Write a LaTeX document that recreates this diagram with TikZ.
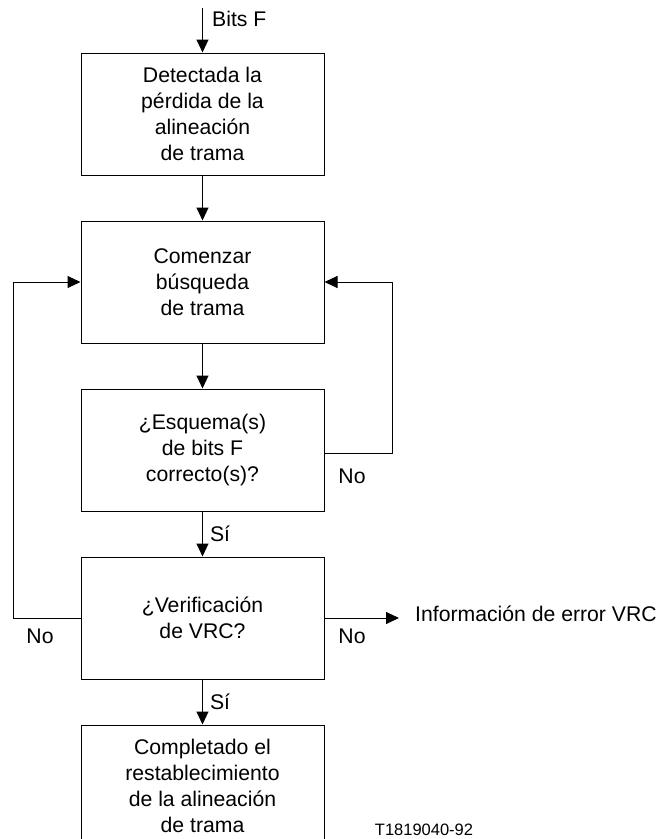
\documentclass[tikz,border=0pt]{standalone}
\usepackage{fontspec}
\setmainfont{Liberation Sans}
\usetikzlibrary{positioning,arrows.meta}
\begin{document}
\begin{tikzpicture}[x=1pt,y=-1pt,
    paso/.style={draw, line width=1pt, minimum width=243pt, minimum height=122pt,
        align=center, inner sep=0pt, font=\fontsize{21.2}{26}\selectfont},
    lbl/.style={inner sep=0pt, font=\fontsize{21.2}{26}\selectfont},
    flecha/.style={line width=1pt, -{Triangle[length=13pt,width=12pt]}},
    node distance=45pt]
    \clip (0,0) rectangle (656,839); % marco
    % cajas
    \node[paso] (det) at (202.5,114) {Detectada la\\p\'erdida de la\\alineaci\'on\\de trama};
    \node[paso, below=of det] (busq) {Comenzar\\b\'usqueda\\de trama};
    \node[paso, below=of busq] (esq) {¿Esquema(s)\\de bits F\\correcto(s)?};
    \node[paso, below=of esq] (vrc) {¿Verificaci\'on\\de VRC?};
    \node[paso, below=of vrc] (fin) {Completado el\\restablecimiento\\de la alineaci\'on\\de trama};

    \coordinate (entrada) at (202.5,8);
    \coordinate (izq) at (13,0); \coordinate (der) at (392,0); \coordinate (salida) at (399,0);
    \node[lbl, anchor=west] (bits) at (212,19) {Bits F};
    \node[lbl, anchor=west] (info) at (415,614) {Informaci\'on de error VRC};

    % flechas
    \draw[flecha] (entrada) -- (det);
    \draw[flecha] (det) -- (busq);
    \draw[flecha] (busq) -- (esq);
    \draw[flecha] (esq) -- (vrc) node[lbl, midway, anchor=west, xshift=7pt] (si1) {S\'i};
    \draw[flecha] (vrc) -- (fin) node[lbl, midway, anchor=west, xshift=7pt] (si2) {S\'i};
    \draw[flecha] ([yshift=-3pt]esq.east) -- ([yshift=-3pt]esq.east -| der) |- (busq.east); % No
    \draw[flecha] (vrc.west) -- (vrc.west -| izq) |- (busq.west); % No
    \draw[flecha] (vrc.east) -- (vrc.east -| salida);

    \node[lbl] (no1) at (352,476) {No};
    \node[lbl] (no2) at (352,636) {No};
    \node[lbl] (no3) at (40,636) {No};
    \node[inner sep=0pt, font=\fontsize{16.5}{20}\selectfont] (ref) at (424,830) {T1819040-92};
\end{tikzpicture}
\end{document}
